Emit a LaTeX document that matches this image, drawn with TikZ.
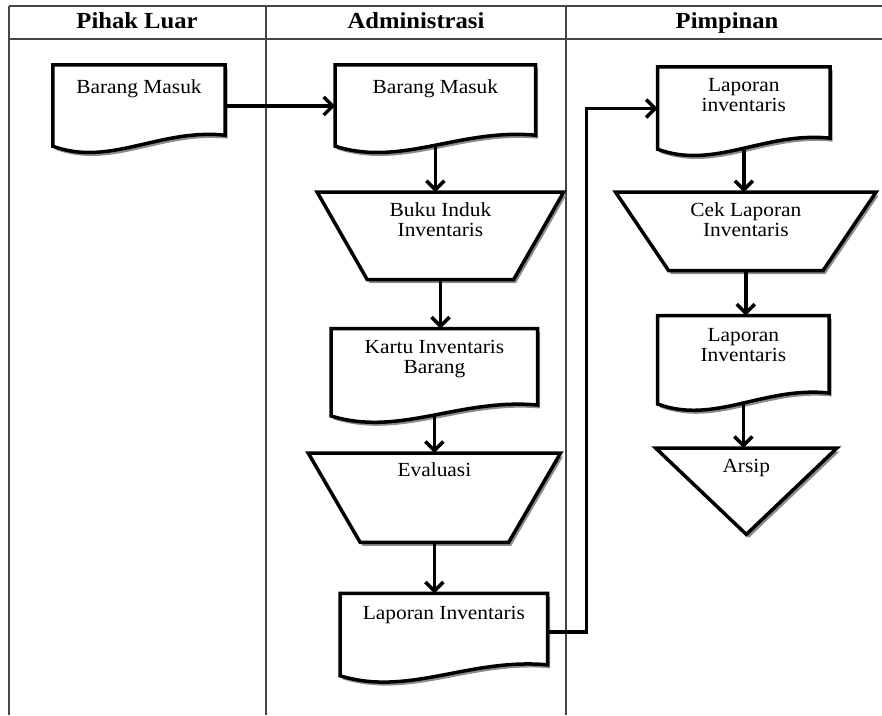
\documentclass[tikz,border=0pt]{standalone}
\usepackage{fontspec}
\setmainfont{Liberation Serif}[FakeStretch=1.07]
\usetikzlibrary{positioning, arrows.meta, calc, shadows, backgrounds}
\definecolor{lanegray}{RGB}{70, 70, 70}

\newcommand{\lbl}[1]{\begin{tabular}[t]{@{}c@{}}#1\end{tabular}}
\newcommand{\docframe}[1]{%
  \path[shapeLine] (#1.north west) -- (#1.north east) -- (#1.south east)
    .. controls ($(#1.south east)!0.38!(#1.south west)+(0,-7)$) and ($(#1.south west)!0.33!(#1.south east)+(0,32)$)
    .. ($(#1.south west)+(0,11)$) -- cycle;}
\newcommand{\trapframe}[2]{%
  \path[shapeLine] (#1.north west) -- (#1.north east) -- ($(#1.south east)+(-#2,0)$) -- ($(#1.south west)+(#2,0)$) -- cycle;}
\newcommand{\triframe}[1]{%
  \path[shapeLine] (#1.north west) -- (#1.north east) -- (#1.south) -- cycle;}

\begin{document}
\begin{tikzpicture}[x=1pt, y=-1pt,
   every node/.style  = {font=\fontsize{20}{20}\selectfont},
    headNode/.style   = {font=\fontsize{23}{23}\selectfont\bfseries, anchor=base},
    boxNode/.style    = {rectangle, inner sep=0pt, text height=25pt},
    shapeLine/.style  = {draw, line width=3.5pt, fill=white, drop shadow={shadow xshift=2.5pt, shadow yshift=-3.5pt, fill=black!45, opacity=1}},
    laneLine/.style   = {draw=lanegray, line width=1.5pt},
    myarrow/.style    = {line width=3.5pt, -{Straight Barb[length=9pt,width=18pt]}}
]
\useasboundingbox (0,0) rectangle (882,715);

% header
\node[headNode] (hLuar)  at (137,28) {Pihak Luar};
\node[headNode] (hAdmin) at (416,28) {Administrasi};
\node[headNode] (hPimp)  at (727,28) {Pimpinan};

% Pihak Luar / Administrasi
\node[boxNode, minimum width=172pt, text height=28pt, text depth=42pt] at (139,100) (bm1) {\lbl{Barang Masuk}};
\node[boxNode, right=110pt of bm1, minimum width=200pt, text height=28pt, text depth=42pt] (bm2) {\lbl{Barang Masuk}};
\node[boxNode, below=57pt of bm2, xshift=5pt, minimum width=246pt, text height=24pt, text depth=63pt] (buku) {\lbl{Buku Induk\\Inventaris}};
\node[boxNode, below=49pt of buku, xshift=-6pt, minimum width=206pt, text depth=51pt] (kartu) {\lbl{Kartu Inventaris\\Barang}};
\node[boxNode, below=48pt of kartu, minimum width=252pt, text height=23pt, text depth=66pt] (eval) {\lbl{Evaluasi}};
\node[boxNode, below=51pt of eval, xshift=9.5pt, minimum width=207pt, text height=26pt, text depth=45pt] (lapadm) {\lbl{Laporan Inventaris}};

% Pimpinan
\node[boxNode, right=122pt of bm2, yshift=-2.5pt, minimum width=172pt, text height=24pt, text depth=47pt] (lapinv1) {\lbl{Laporan\\inventaris}};
\node[boxNode, below=54pt of lapinv1, xshift=2pt, minimum width=260pt, text height=24pt, text depth=54pt] (cek) {\lbl{Cek Laporan\\Inventaris}};
\node[boxNode, below=45pt of cek, xshift=-2.5pt, minimum width=171pt, text height=26pt, text depth=51pt] (lapinv2) {\lbl{Laporan\\Inventaris}};
\node[boxNode, below=55pt of lapinv2, xshift=3pt, minimum width=181pt, text height=24pt, text depth=62pt] (arsip) {\lbl{Arsip}};

\begin{scope}[on background layer]
  \draw[laneLine] (9,6) -- (882,6);
  \draw[laneLine] (9,39) -- (882,39);
  \draw[laneLine] (9,6) -- (9,715);
  \draw[laneLine] (266,6) -- (266,715);
  \draw[laneLine] (566,6) -- (566,715);

  \docframe{bm1}
  \docframe{bm2}
  \trapframe{buku}{50}
  \docframe{kartu}
  \trapframe{eval}{52}
  \docframe{lapadm}
  \docframe{lapinv1}
  \trapframe{cek}{53}
  \docframe{lapinv2}
  \triframe{arsip}
\end{scope}

\draw[myarrow] ([yshift=-6pt]bm1.east) -- ([yshift=-6pt]bm2.west);
\draw[myarrow] ([yshift=-10pt]bm2.south) -- (bm2.south |- buku.north);
\draw[myarrow] (buku.south) -- (buku.south |- kartu.north);
\draw[myarrow] ([yshift=-9pt]kartu.south) -- (kartu.south |- eval.north);
\draw[myarrow] (eval.south) -- (eval.south |- lapadm.north);
\draw[myarrow] ([yshift=-3pt]lapadm.east) -- ++(39,0) |- ([yshift=-6pt]lapinv1.west);

\draw[myarrow] ([yshift=-10pt]lapinv1.south) -- (lapinv1.south |- cek.north);
\draw[myarrow] (cek.south) -- (cek.south |- lapinv2.north);
\draw[myarrow] ([yshift=-10pt]lapinv2.south) -- (lapinv2.south |- arsip.north);

\end{tikzpicture}
\end{document}
